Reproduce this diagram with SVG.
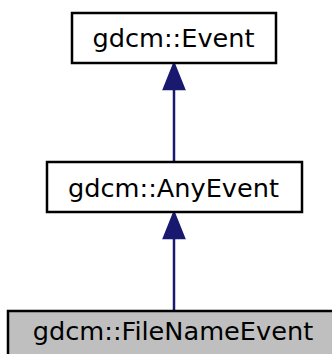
<svg xmlns="http://www.w3.org/2000/svg" width="332" height="354" viewBox="0 0 332 354">
<style>
.box{fill:#ffffff;stroke:#000000;stroke-width:2.5}
.cur{fill:#bfbfbf;stroke:#000000;stroke-width:2.5}
.lbl{font-family:"DejaVu Sans",sans-serif;font-size:25.6px;fill:#000000;text-anchor:middle}
.edge{stroke:#191970;stroke-width:2.5;fill:none}
.head{fill:#191970;stroke:#191970;stroke-width:2.5}
</style>
<g id="connectors">
<line class="edge" x1="174" y1="162" x2="174" y2="88"/>
<polygon class="head" points="174,64 164,89 184,89"/>
<line class="edge" x1="174" y1="311" x2="174" y2="238"/>
<polygon class="head" points="174,213 164,238 184,238"/>
</g>
<g id="node-event">
<rect class="box" x="72" y="13" width="204" height="50"/>
<text class="lbl" x="173.5" y="47">gdcm::Event</text>
</g>
<g id="node-anyevent">
<rect class="box" x="47" y="162" width="255" height="50"/>
<text class="lbl" x="173.5" y="197">gdcm::AnyEvent</text>
</g>
<g id="node-filenameevent">
<rect class="cur" x="8" y="311" width="332" height="50"/>
<text class="lbl" x="173" y="340">gdcm::FileNameEvent</text>
</g>
</svg>
